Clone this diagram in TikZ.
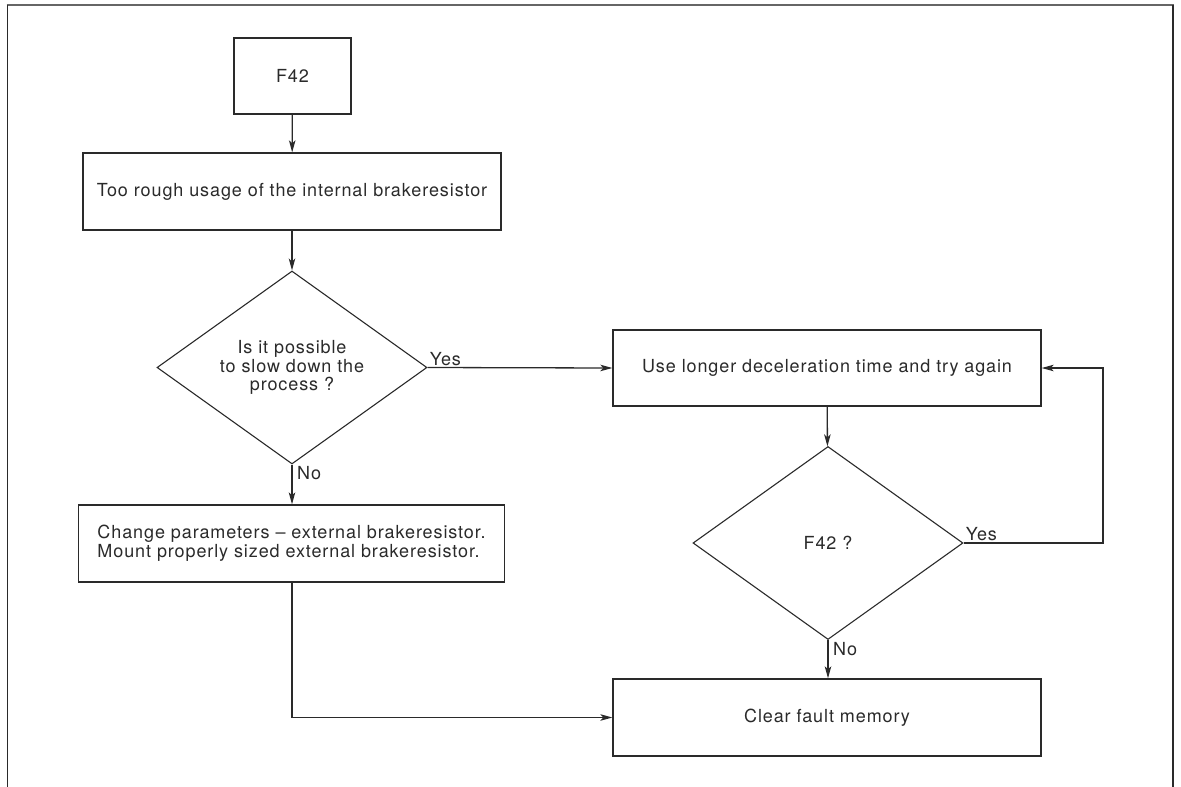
\documentclass[tikz,border=0pt]{standalone}
\usepackage{fontspec}
\setmainfont{TeX Gyre Heros}[LetterSpace=5]
\usetikzlibrary{shapes.geometric,arrows.meta}
\definecolor{ink}{HTML}{2A2A2A}
\definecolor{framegray}{HTML}{666666}
\tikzset{
  box/.style={draw=ink, line width=1.3pt, rectangle, inner sep=0pt, align=center, text=ink},
  decision/.style={draw=ink, line width=1.1pt, diamond, inner sep=0pt, aspect=1.4, minimum width=270pt, minimum height=193pt, align=center, text=ink},
  conn/.style={draw=ink, line width=1.3pt, -{Stealth[length=12pt,width=6.5pt,inset=3pt]}},
  lbl/.style={text=ink, inner sep=2pt},
}
\begin{document}
\begin{tikzpicture}[x=1pt,y=-1pt, font=\fontsize{18}{18.8}\selectfont]
\useasboundingbox (0,0) rectangle (1181,787);
% outer frame
\draw[framegray, line width=2pt] (6.5,5) -- (1174,5);
\draw[ink, line width=1.6pt] (7.5,787) -- (7.5,5);
\draw[ink, line width=1.6pt] (1173,5) -- (1173,787);

\node[box, minimum width=117pt, minimum height=76pt] (f42) at (292.5,76) {F42};
\node[box, minimum width=418pt, minimum height=77pt] (rough) at (292,191.5) {Too rough usage of the internal brakeresistor};
\node[decision] (d1) at (292,367.5) {Is it possible\\to slow down the\\process ?};
\node[box, minimum width=426pt, minimum height=77pt, align=left] (change) at (291.5,543.5) {Change parameters -- external brakeresistor.\\Mount properly sized external brakeresistor.};
\node[box, minimum width=428pt, minimum height=76pt] (longer) at (827,368) {Use longer deceleration time and try again};
\node[decision] (d2) at (828,543) {F42 ?};
\node[box, minimum width=428pt, minimum height=77pt] (clear) at (827,717.5) {Clear fault memory};
\coordinate (fb) at (1103,543);
\coordinate (lc) at (292,717.5);

\draw[conn] (f42) -- (rough);
\draw[conn] (rough) -- (d1);
\draw[conn] (d1.east) -- (longer.west);
\draw[conn] (d1.south) -- (d1.south |- change.north);
\draw[conn] (longer) -- (d2);
\draw[conn] (d2.south) -- (d2.south |- clear.north);
\draw[conn] (d2.east) -- (fb) |- (longer.east);
\draw[conn] (change.south -| lc) -- (lc) -- (clear.west);

\node[lbl, anchor=south west] (y1) at (d1.east) {Yes};
\node[lbl, anchor=north west] (n1) at ([xshift=3pt]d1.south) {No};
\node[lbl, anchor=south west] (y2) at (d2.east) {Yes};
\node[lbl, anchor=north west] (n2) at ([xshift=3pt]d2.south) {No};
\end{tikzpicture}
\end{document}
